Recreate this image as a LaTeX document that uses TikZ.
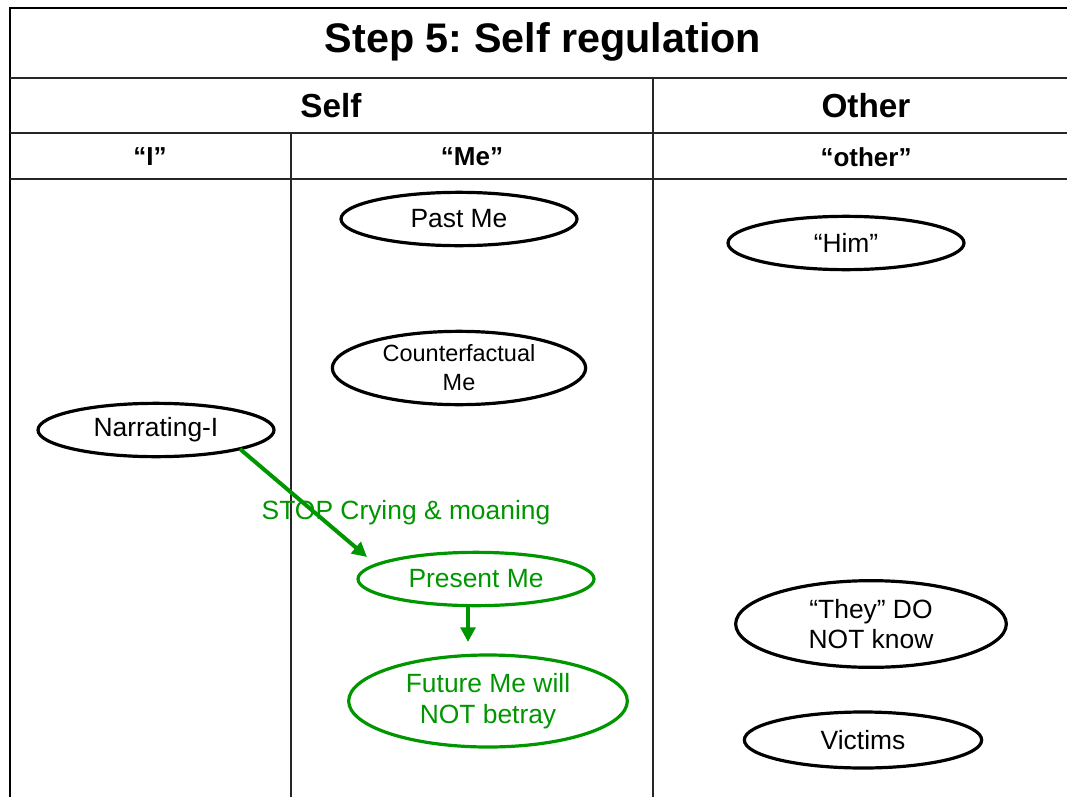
\documentclass[tikz,border=0pt]{standalone}
\usepackage{fontspec}
\setmainfont{Liberation Sans}
\usetikzlibrary{shapes.geometric,arrows.meta}
\definecolor{grn}{RGB}{0,150,0}
\tikzset{
  oval/.style={draw, ellipse, line width=2.4pt, inner sep=0pt, font=\fontsize{19.8}{23}\selectfont, align=center},
  rule/.style={line width=1.1pt, black!85},
  head/.style={font=\bfseries\fontsize{19.5}{22}\selectfont},
  conn/.style={draw=grn, line width=3pt, -{Triangle[length=11pt,width=11pt]}}
}
\begin{document}
\frenchspacing
\begin{tikzpicture}[x=0.75pt,y=-0.75pt]
\useasboundingbox (0,0) rectangle (1067,796);
\clip (0,0) rectangle (1067,796);
% table frame
\draw[line width=2pt] (10,830) -- (10,8) -- (1090,8);
\draw[rule] (10,78) -- (1090,78);
\draw[rule] (10,133) -- (1090,133);
\draw[rule] (10,179) -- (1090,179);
\draw[rule] (291,133) -- (291,830);
\draw[rule] (653,78) -- (653,830);
% headings
\node[font=\bfseries\fontsize{31}{34}\selectfont] (title) at (543,42) {Step 5: Self regulation};
\node[font=\bfseries\fontsize{25}{28}\selectfont] (self) at (331,106) {Self};
\node[font=\bfseries\fontsize{25}{28}\selectfont] (other) at (866,106) {Other};
\node[head] (colI) at (150,157) {“I”};
\node[head] (colMe) at (472,157) {“Me”};
\node[head] (colOther) at (866,157) {“other”};
% ovals
\node[oval, minimum width=177pt, minimum height=40pt] (past) at (459,219) {Past Me};
\node[oval, font=\fontsize{17.6}{21.7}\selectfont, minimum width=190pt, minimum height=55pt] (counter) at (459,368) {Counterfactual\\Me};
\node[oval, minimum width=177pt, minimum height=40pt] (narr) at (156,430) {Narrating-I};
\node[oval, minimum width=177pt, minimum height=40pt] (him) at (846,243) {“Him”};
\node[oval, draw=grn, text=grn, minimum width=177pt, minimum height=40pt] (present) at (476,579) {Present Me};
\node[oval, draw=grn, text=grn, minimum width=209pt, minimum height=69pt] (future) at (488,701) {Future Me will\\NOT betray};
\node[oval, minimum width=203pt, minimum height=65pt] (they) at (871,624) {“They” DO\\NOT know};
\node[oval, minimum width=178pt, minimum height=42pt] (victims) at (863,740) {Victims};
% connectors
\coordinate (narrOut) at (240,449);
\coordinate (presIn) at (367,557);
\draw[conn] (narrOut) -- (presIn);
\coordinate (presOut) at (468,607);
\coordinate (futIn) at (468,642);
\draw[conn] (presOut) -- (futIn);
\node[text=grn, font=\fontsize{19.8}{23}\selectfont] (stop) at (406,513) {STOP Crying \& moaning};
\end{tikzpicture}
\end{document}
